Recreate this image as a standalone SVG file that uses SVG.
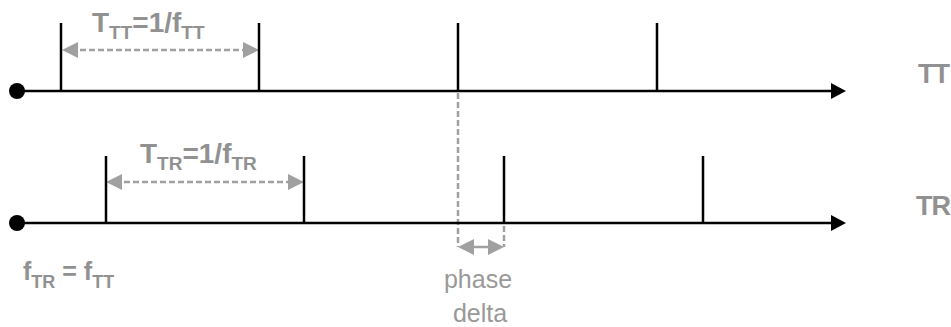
<svg xmlns="http://www.w3.org/2000/svg" width="951" height="327" viewBox="0 0 951 327">
<style>
.axis{stroke:#000;stroke-width:2.5;fill:none}
.tick{stroke:#000;stroke-width:2.5}
.dash{stroke:#a0a0a0;stroke-width:2.5;stroke-dasharray:6 3;fill:none}
.garrow{stroke:#a0a0a0;stroke-width:2.5;fill:none}
.lbl{font-family:"Liberation Sans",Arial,sans-serif;font-weight:bold;font-size:28px;fill:#919191}
.sub{font-size:19px}
.side{font-family:"Liberation Sans",Arial,sans-serif;font-weight:bold;font-size:27px;fill:#919191;text-anchor:end;letter-spacing:-1px}
.small{font-family:"Liberation Sans",Arial,sans-serif;font-weight:bold;font-size:25px;fill:#919191}
.sub2{font-size:18px}
.plain{font-family:"Liberation Sans",Arial,sans-serif;font-size:25px;fill:#999;text-anchor:middle}
</style>
<defs>
<marker id="blk" markerUnits="userSpaceOnUse" markerWidth="16" markerHeight="16" refX="2" refY="8" orient="auto">
<path d="M0,0 L15,8 L0,16 z" fill="#000"/>
</marker>
<marker id="gry" markerUnits="userSpaceOnUse" markerWidth="16" markerHeight="16" refX="7" refY="8" orient="auto-start-reverse">
<path d="M0,0 L16,8 L0,16 z" fill="#a0a0a0"/>
</marker>
</defs>
<g id="connectors">
<line id="guide-a" class="dash" x1="458" y1="93" x2="458" y2="247"/>
<line id="guide-b" class="dash" x1="504" y1="226" x2="504" y2="247"/>
<line id="period-tt" class="dash" x1="71" y1="50" x2="250" y2="50" marker-start="url(#gry)" marker-end="url(#gry)"/>
<line id="period-tr" class="dash" x1="115" y1="182" x2="295" y2="182" marker-start="url(#gry)" marker-end="url(#gry)"/>
<line id="phase-arrow" class="garrow" x1="467" y1="247" x2="495" y2="247" marker-start="url(#gry)" marker-end="url(#gry)"/>
</g>
<g id="timeline-tt">
<line class="axis" x1="17" y1="91" x2="833" y2="91" marker-end="url(#blk)"/>
<circle cx="17" cy="91" r="8" fill="#000"/>
<line class="tick" x1="61" y1="23" x2="61" y2="91"/>
<line class="tick" x1="259" y1="23" x2="259" y2="91"/>
<line class="tick" x1="458" y1="23" x2="458" y2="91"/>
<line class="tick" x1="657" y1="23" x2="657" y2="91"/>
<text class="side" x="949" y="83">TT</text>
</g>
<g id="timeline-tr">
<line class="axis" x1="17" y1="223" x2="833" y2="223" marker-end="url(#blk)"/>
<circle cx="17" cy="223" r="8" fill="#000"/>
<line class="tick" x1="106" y1="156" x2="106" y2="223"/>
<line class="tick" x1="304" y1="156" x2="304" y2="223"/>
<line class="tick" x1="504" y1="156" x2="504" y2="223"/>
<line class="tick" x1="703" y1="156" x2="703" y2="223"/>
<text class="side" x="950" y="215">TR</text>
</g>
<g id="label-ttt">
<text class="lbl" x="92" y="32">T<tspan class="sub" dy="7">TT</tspan><tspan dy="-7">=1/f</tspan><tspan class="sub" dy="7">TT</tspan></text>
</g>
<g id="label-ttr">
<text class="lbl" x="140" y="163">T<tspan class="sub" dy="7">TR</tspan><tspan dy="-7">=1/f</tspan><tspan class="sub" dy="7">TR</tspan></text>
</g>
<g id="label-freq">
<text class="small" x="23" y="280">f<tspan class="sub2" dy="8">TR</tspan><tspan dy="-8"> = f</tspan><tspan class="sub2" dy="8">TT</tspan></text>
</g>
<g id="label-phase">
<text class="plain" x="478" y="288">phase</text>
<text class="plain" x="480" y="322">delta</text>
</g>
</svg>
